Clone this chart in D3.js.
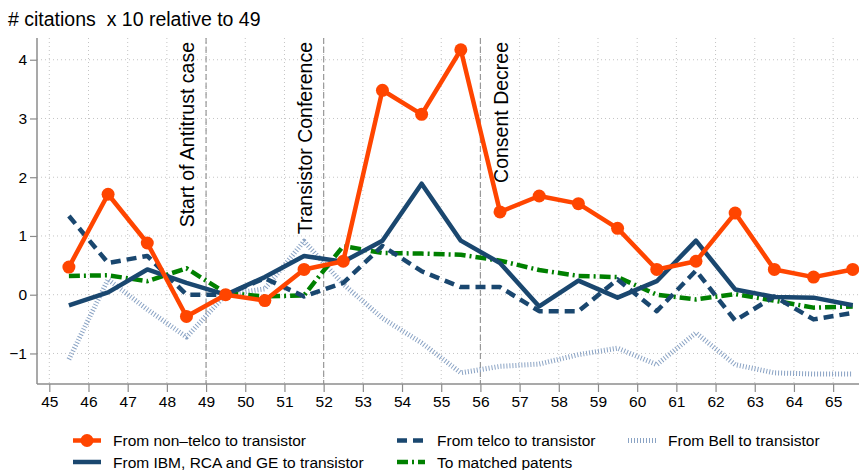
<!DOCTYPE html>
<html>
<head>
<meta charset="utf-8">
<script src="https://cdn.jsdelivr.net/npm/d3@7"></script>
<style>
  body { margin: 0; background: #fff; }
  svg { font-family: "Liberation Sans", Arial, sans-serif; }
</style>
</head>
<body>
<svg id="chart" width="859" height="470"></svg>
<script>
// Data (years 1945..1965, points sit mid-year)
const years = d3.range(45.5, 66, 1);
const nonTelco = [0.47, 1.71, 0.88, -0.37, 0.0, -0.10, 0.43, 0.57, 3.48, 3.07, 4.17, 1.41, 1.68, 1.55, 1.13, 0.43, 0.57, 1.39, 0.43, 0.30, 0.43];
const ibmRcaGe = [-0.18, 0.04, 0.43, 0.20, 0.0, 0.30, 0.66, 0.56, 0.92, 1.89, 0.92, 0.54, -0.20, 0.24, -0.05, 0.23, 0.92, 0.09, -0.04, -0.05, -0.18];
const telco = [1.34, 0.54, 0.66, 0.0, 0.0, 0.28, -0.03, 0.20, 0.83, 0.40, 0.13, 0.13, -0.28, -0.28, 0.26, -0.28, 0.41, -0.44, -0.03, -0.42, -0.31];
const matched = [0.32, 0.33, 0.23, 0.45, 0.03, -0.03, -0.01, 0.83, 0.71, 0.70, 0.68, 0.58, 0.42, 0.32, 0.30, 0.0, -0.08, 0.01, -0.10, -0.22, -0.20];
const bell = [-1.10, 0.26, -0.25, -0.72, 0.0, 0.10, 0.91, 0.18, -0.40, -0.82, -1.33, -1.22, -1.18, -1.02, -0.91, -1.19, -0.65, -1.19, -1.33, -1.35, -1.35];

const xTicks = d3.range(45, 66);
const yTicks = [-1, 0, 1, 2, 3, 4];
const events = [
  {x: 49, labelX: 48.7, label: "Start of Antitrust case"},
  {x: 52, labelX: 51.7, label: "Transistor Conference"},
  {x: 56, labelX: 56.7, label: "Consent Decree"}
];
const title = "# citations  x 10 relative to 49";

const orange = "#ff4500", navy = "#1a476f", green = "#008000", ltblue = "#8aa3c4";

const series = [
  {name: "From Bell to transistor", values: bell, color: ltblue, width: 5, dash: "1,2", legend: [2, 0]},
  {name: "To matched patents", values: matched, color: green, width: 4.5, dash: "11,4,2,4", legend: [1, 1]},
  {name: "From telco to transistor", values: telco, color: navy, width: 4.5, dash: "10,6", legend: [1, 0]},
  {name: "From IBM, RCA and GE to transistor", values: ibmRcaGe, color: navy, width: 4.5, dash: null, legend: [0, 1]},
  {name: "From non\u2013telco to transistor", values: nonTelco, color: orange, width: 4.5, dash: null, marker: true, legend: [0, 0]}
];

const svg = d3.select("#chart");
const plot = {left: 37, right: 859, top: 38, bottom: 384};

const x = d3.scaleLinear().domain([44.686, 65.66]).range([plot.left, plot.right]);
const y = d3.scaleLinear().domain([-1.52, 4.37]).range([plot.bottom, plot.top]);

// title
svg.append("text")
  .attr("x", 8).attr("y", 26)
  .style("font-size", "19.5px")
  .style("white-space", "pre")
  .attr("fill", "#000")
  .text(title);

// grid
const grid = svg.append("g");
grid.selectAll(".hg").data(yTicks).enter().append("line")
  .attr("x1", plot.left).attr("x2", plot.right)
  .attr("y1", d => y(d)).attr("y2", d => y(d))
  .attr("stroke", "#c4c4c4").attr("stroke-width", 1).attr("stroke-dasharray", "1,3");
grid.selectAll(".vg").data(xTicks).enter().append("line")
  .attr("x1", d => x(d)).attr("x2", d => x(d))
  .attr("y1", plot.top).attr("y2", plot.bottom)
  .attr("stroke", "#c4c4c4").attr("stroke-width", 1).attr("stroke-dasharray", "1,3");

// event lines and labels
const ev = svg.append("g");
ev.selectAll("line").data(events).enter().append("line")
  .attr("x1", d => x(d.x)).attr("x2", d => x(d.x))
  .attr("y1", plot.top).attr("y2", plot.bottom)
  .attr("stroke", "#999").attr("stroke-width", 1.2).attr("stroke-dasharray", "6,3");
ev.selectAll("text").data(events).enter().append("text")
  .attr("transform", d => `translate(${x(d.labelX)},${plot.top + 4}) rotate(-90)`)
  .attr("text-anchor", "end")
  .style("font-size", "19.5px")
  .text(d => d.label);

// axes
const xAxis = svg.append("g")
  .attr("transform", `translate(0,${plot.bottom})`)
  .call(d3.axisBottom(x).tickValues(xTicks).tickSize(8).tickPadding(4).tickFormat(d3.format("d")));
const yAxis = svg.append("g")
  .attr("transform", `translate(${plot.left},0)`)
  .call(d3.axisLeft(y).tickValues(yTicks).tickSize(7).tickPadding(3)
    .tickFormat(d => d < 0 ? "\u2212" + Math.abs(d) : d));
[xAxis, yAxis].forEach(a => {
  a.select(".domain").attr("stroke", "#8c8c8c").attr("stroke-width", 1.5);
  a.selectAll(".tick line").attr("stroke", "#8c8c8c").attr("stroke-width", 1.2);
  a.selectAll(".tick text").attr("fill", "#000").style("font-size", "15.5px")
    .style("font-family", "'Liberation Sans', Arial, sans-serif");
});
yAxis.select(".domain").attr("d", `M0,${plot.top}V${plot.bottom}`);
xAxis.select(".domain").attr("d", `M${plot.left},0H${plot.right}`);

// lines
const line = d3.line().x((d, i) => x(years[i])).y(d => y(d));
const lines = svg.append("g");
series.forEach(s => {
  lines.append("path")
    .datum(s.values)
    .attr("d", line)
    .attr("fill", "none")
    .attr("stroke", s.color)
    .attr("stroke-width", s.width)
    .attr("stroke-dasharray", s.dash)
    .attr("stroke-linejoin", "round");
  if (s.marker) {
    lines.selectAll(".pt").data(s.values).enter().append("circle")
      .attr("cx", (d, i) => x(years[i])).attr("cy", d => y(d))
      .attr("r", 6.5).attr("fill", s.color);
  }
});

// legend
const legCols = [73, 397, 628];
const legRows = [440.5, 462];
const leg = svg.append("g");
series.forEach(s => {
  const lx = legCols[s.legend[0]], ly = legRows[s.legend[1]];
  leg.append("line")
    .attr("x1", lx).attr("x2", lx + 28).attr("y1", ly).attr("y2", ly)
    .attr("stroke", s.color).attr("stroke-width", s.width)
    .attr("stroke-dasharray", s.dash);
  if (s.marker) {
    leg.append("circle").attr("cx", lx + 14).attr("cy", ly).attr("r", 6.5).attr("fill", s.color);
  }
  leg.append("text")
    .attr("x", lx + 40).attr("y", ly + 5.5)
    .style("font-size", "15.5px")
    .text(s.name);
});
</script>
</body>
</html>
